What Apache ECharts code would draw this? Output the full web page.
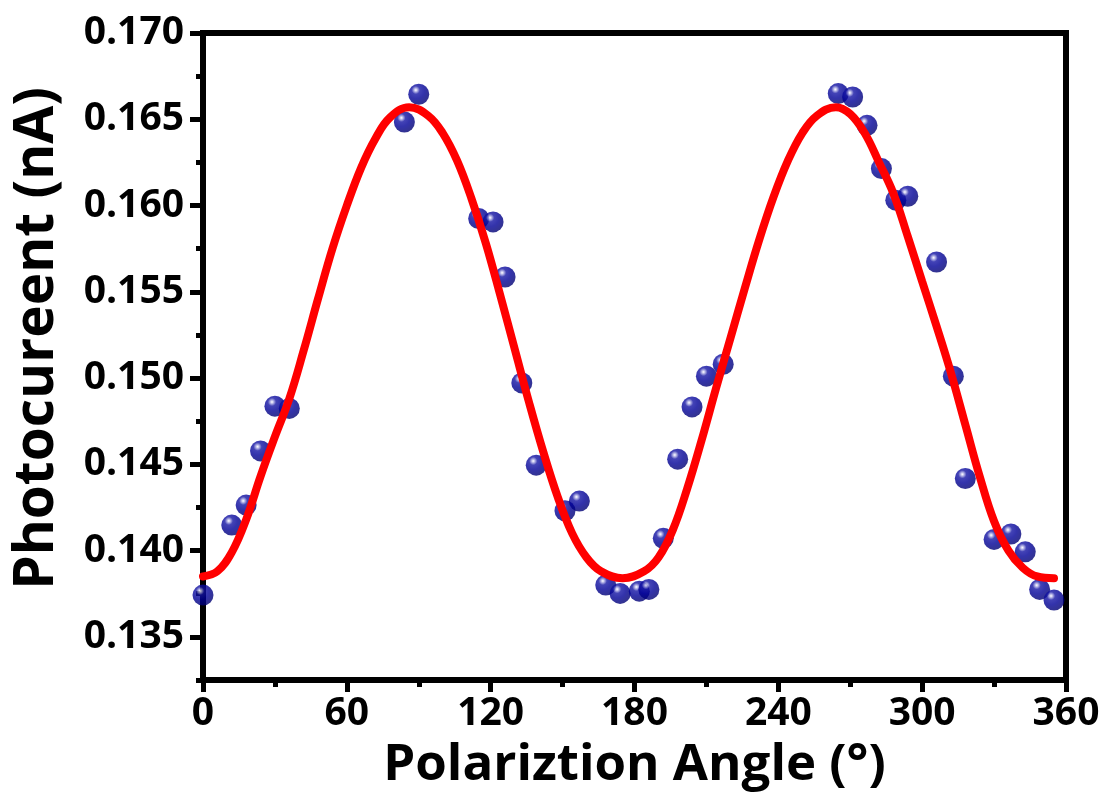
<!DOCTYPE html>
<html>
<head>
<meta charset="utf-8">
<script src="https://cdn.jsdelivr.net/npm/echarts@6/dist/echarts.min.js"></script>
<style>
html,body{margin:0;padding:0;background:#fff;}
#chart{width:1107px;height:803px;}
</style>
</head>
<body>
<div id="chart"></div>
<script>
// Measured data points (angle in degrees, photocurrent in nA)
var scatterAngles = [0,12,18,24,30,36,84,90,115,121,126,133,139,151,157,168,174,182,186,192,198,204,210,217,265,271,277,283,289,294,306,313,318,330,337,343,349,355];
var photocurrent = [0.13742,0.14148,0.14264,0.14578,0.14837,0.14824,0.16484,0.16645,0.15925,0.15905,0.15586,0.14972,0.14495,0.14231,0.14287,0.1380,0.13752,0.13765,0.13775,0.14071,0.1453,0.14833,0.15011,0.1508,0.16649,0.16629,0.16465,0.16214,0.16031,0.16054,0.15673,0.15011,0.14418,0.14065,0.14096,0.13993,0.13775,0.13713];

// Fit curve
var fitAngles = [0,6,12,18,24,30,36,42,48,54,60,66,72,78,86,94,100,106,112,118,124,130,136,142,148,154,160,166,175,184,190,196,202,208,214,220,226,232,238,244,250,256,264,270,276,282,288,294,300,306,312,318,324,330,336,342,348,355];
var fitValues = [0.1385,0.1388,0.1399,0.1418,0.1443,0.1466,0.1488,0.1516,0.1546,0.1575,0.1600,0.1622,0.1639,0.1651,0.1657,0.1652,0.1642,0.1626,0.1604,0.1578,0.1548,0.1517,0.1486,0.1457,0.1431,0.1410,0.1396,0.1388,0.1384,0.1388,0.1396,0.1412,0.1436,0.1464,0.1494,0.1523,0.1552,0.1580,0.1605,0.1626,0.1642,0.1652,0.1657,0.1653,0.1642,0.1625,0.1607,0.1582,0.1556,0.1530,0.1503,0.1473,0.1443,0.1417,0.1400,0.1390,0.1385,0.1384];

// Tick labels
var yMajorTicks = [0.135,0.140,0.145,0.150,0.155,0.160,0.165,0.170];
var yMinorTicks = [0.1325,0.1375,0.1425,0.1475,0.1525,0.1575,0.1625,0.1675];
var xMinorTicks = [30,90,150,210,270,330];

var xTitle = 'Polariztion Angle (°)';
var yTitle = 'Photocureent (nA)';

var FONT = '"Open Sans", "Noto Sans", sans-serif';

var scatterData = scatterAngles.map(function(a,i){ return [a, photocurrent[i]]; });
var fitData = fitAngles.map(function(a,i){ return [a, fitValues[i]]; });

var chart = echarts.init(document.getElementById('chart'), null, {renderer:'canvas'});

var sphere = new echarts.graphic.RadialGradient(0.36, 0.3, 0.75, [
  {offset:0, color:'#ffffff'},
  {offset:0.08, color:'#bcbcea'},
  {offset:0.26, color:'#1414a4'},
  {offset:0.55, color:'#000096'},
  {offset:1, color:'#000070'}
]);

var option = {
  backgroundColor:'#ffffff',
  animation:false,
  grid:{left:203, right:41, top:33, bottom:123, show:true, borderColor:'#000', borderWidth:6, backgroundColor:'transparent'},
  xAxis:[{
    type:'value', min:0, max:360, interval:60,
    name:xTitle, nameLocation:'middle', nameGap:60,
    nameTextStyle:{fontFamily:FONT, fontWeight:'bold', fontSize:51, color:'#000'},
    axisLine:{lineStyle:{color:'#000', width:6}},
    axisTick:{show:true, inside:false, length:12, lineStyle:{color:'#000', width:5}},
    axisLabel:{fontFamily:FONT, fontWeight:'bold', fontSize:39, color:'#000', margin:14},
    splitLine:{show:false}
  },{
    type:'value', min:0, max:360, position:'bottom',
    axisLine:{show:false},
    axisTick:{show:true, inside:false, length:7, customValues:xMinorTicks, lineStyle:{color:'#000', width:5}},
    axisLabel:{show:false},
    splitLine:{show:false}
  }],
  yAxis:[{
    type:'value', min:0.1325, max:0.170,
    name:yTitle, nameLocation:'middle', nameGap:138,
    nameTextStyle:{fontFamily:FONT, fontWeight:'bold', fontSize:55, color:'#000', padding:[0,0,0,36]},
    axisLine:{show:true, lineStyle:{color:'#000', width:6}},
    axisTick:{show:true, inside:false, length:13, customValues:yMajorTicks, lineStyle:{color:'#000', width:5}},
    axisLabel:{fontFamily:FONT, fontWeight:'bold', fontSize:39, color:'#000', margin:19, customValues:yMajorTicks,
      formatter:function(v){ return v.toFixed(3); }},
    splitLine:{show:false}
  },{
    type:'value', min:0.1325, max:0.170, position:'left',
    axisLine:{show:false},
    axisTick:{show:true, inside:false, length:7, customValues:yMinorTicks, lineStyle:{color:'#000', width:5}},
    axisLabel:{show:false},
    splitLine:{show:false}
  }],
  series:[{
    type:'scatter', name:'data', data:scatterData,
    symbol:'circle', symbolSize:21, z:2,
    itemStyle:{color:sphere}
  },{
    type:'line', name:'fit', data:fitData, smooth:0.4,
    showSymbol:false, z:3,
    lineStyle:{color:'#ff0000', width:8, cap:'round'}
  }]
};
chart.setOption(option);
</script>
</body>
</html>
